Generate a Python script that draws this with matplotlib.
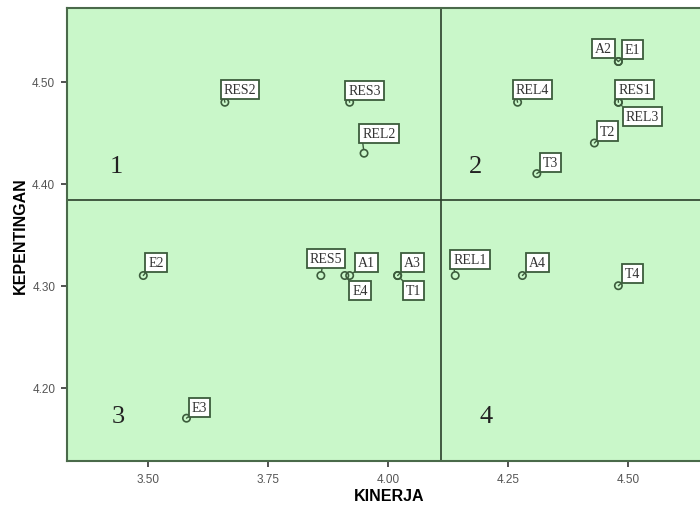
"""
Quadrant scatter of KINERJA vs KEPENTINGAN (SPSS-style importance-performance map).
"""

import matplotlib
matplotlib.use('Agg')
import matplotlib.pyplot as plt

# data
labels = ['RES2', 'RES3', 'REL2', 'A2', 'E1', 'REL4', 'RES1', 'REL3', 'T2', 'T3',
          'E2', 'E3', 'RES5', 'A1', 'E4', 'A3', 'T1', 'REL1', 'A4', 'T4']
kinerja = [3.66, 3.92, 3.95, 4.48, 4.48, 4.27, 4.48, 4.48, 4.43, 4.31,
           3.49, 3.58, 3.86, 3.92, 3.91, 4.02, 4.02, 4.14, 4.28, 4.48]
kepentingan = [4.48, 4.48, 4.43, 4.52, 4.52, 4.48, 4.48, 4.48, 4.44, 4.41,
               4.31, 4.17, 4.31, 4.31, 4.31, 4.31, 4.31, 4.31, 4.31, 4.30]
mean_kinerja = 4.11
mean_kepentingan = 4.384
x_ticks = [3.50, 3.75, 4.00, 4.25, 4.50]
y_ticks = [4.20, 4.30, 4.40, 4.50]

GREEN_BG = '#c9f7c9'
EDGE = '#3c5c3c'

# label box offsets (pixels, box centre relative to point) and leader anchor
label_offsets = {
    'RES2': (15, 13, (0, 0)), 'RES3': (15, 12, (0, 0)), 'REL2': (15, 20, (0, 0)),
    'A2': (-15, 13, (1, 0)), 'E1': (14, 12, (0, 0)), 'REL4': (15, 13, (0, 0)),
    'RES1': (16, 13, (0, 0)), 'REL3': (24, -14, (0, 1)), 'T2': (13, 12, (0, 0)),
    'T3': (14, 11, (0, 0)), 'E2': (13, 13, (0, 0)), 'E3': (13, 11, (0, 0)),
    'RES5': (5, 17, (0.4, 0)), 'A1': (17, 13, (0, 0)), 'E4': (15, -15, (0, 1)),
    'A3': (15, 13, (0, 0)), 'T1': (16, -15, (0, 1)), 'REL1': (15, 16, (0, 0)),
    'A4': (15, 13, (0, 0)), 'T4': (14, 12, (0, 0)),
}

fig = plt.figure(figsize=(7.0, 5.06), dpi=100)
ax = fig.add_axes([67 / 700, 44 / 506, 644 / 700, 453 / 506])
ax.set_facecolor(GREEN_BG)

ax.axvline(mean_kinerja, color='#2a3f2a', linewidth=1.2, zorder=1)
ax.axhline(mean_kepentingan, color='#2a3f2a', linewidth=1.2, zorder=1)

ax.scatter(kinerja, kepentingan, s=28, facecolors='none', edgecolors=EDGE,
           linewidths=1.2, zorder=3)

for name, x, y in zip(labels, kinerja, kepentingan):
    dx, dy, rel = label_offsets[name]
    ax.annotate(name, xy=(x, y), xytext=(dx, dy), textcoords='offset pixels',
                ha='center', va='center', fontsize=10, family='Liberation Serif',
                color='#333333', zorder=4,
                bbox=dict(boxstyle='square,pad=0.22', facecolor='white',
                          edgecolor=EDGE, linewidth=1.3),
                arrowprops=dict(arrowstyle='-', color=EDGE, linewidth=1,
                                relpos=rel, shrinkA=0, shrinkB=3))

# quadrant numbers
quad_style = dict(fontsize=19, family='Liberation Serif', color='#222222',
                  ha='center', va='center')
ax.text(3.433, 4.417, '1', **quad_style)
ax.text(4.183, 4.417, '2', **quad_style)
ax.text(3.437, 4.172, '3', **quad_style)
ax.text(4.204, 4.172, '4', **quad_style)

ax.set_xlim(3.331, 4.673)
ax.set_ylim(4.128, 4.5725)
ax.set_xticks(x_ticks)
ax.set_xticklabels([f'{v:.2f}' for v in x_ticks])
ax.set_yticks(y_ticks)
ax.set_yticklabels([f'{v:.2f}' for v in y_ticks])
ax.tick_params(direction='out', length=4.5, width=1.3, color='#444444',
               labelsize=8.5, labelcolor='#555555', pad=4)
for lbl in ax.get_xticklabels() + ax.get_yticklabels():
    lbl.set_family('Liberation Sans')

for side in ['left', 'bottom', 'top', 'right']:
    ax.spines[side].set_color('#4a6a4a')
    ax.spines[side].set_linewidth(1.5)

ax.set_xlabel('KINERJA', fontsize=11.5, fontweight='bold',
              family='Liberation Sans', labelpad=2)
ax.set_ylabel('KEPENTINGAN', fontsize=11.5, fontweight='bold',
              family='Liberation Sans', labelpad=3)

fig.savefig('out.png', dpi=100)
plt.close(fig)
